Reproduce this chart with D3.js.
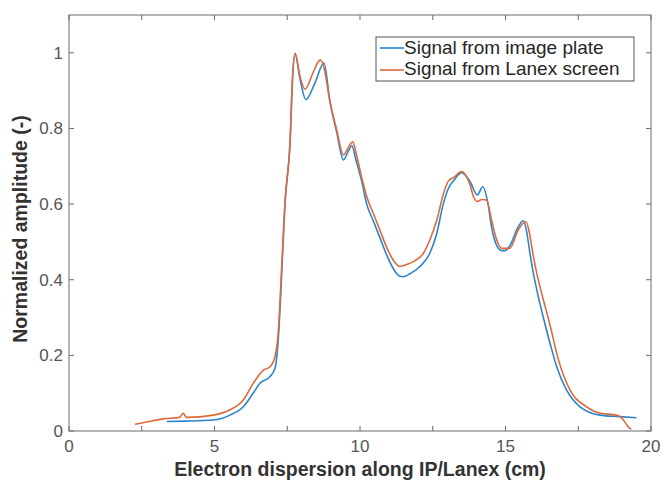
<!DOCTYPE html>
<html lang="en">
<head>
    <meta charset="UTF-8">
    <title>Electron dispersion</title>
    <script src="https://d3js.org/d3.v7.min.js"></script>
    <style>
        body { margin: 0; background: #fff; }
        text { font-family: 'Liberation Sans', Arial, sans-serif; }
    </style>
</head>
<body>
<script>
    const width  = 660;
    const height = 483;
    const margin = {left: 69, right: 9, top: 15, bottom: 52};

    // x positions (cm) and normalized amplitudes
    const plateX = [3.36, 4.0, 4.96, 5.53, 5.99, 6.33, 6.56, 6.91, 7.08, 7.19, 7.3, 7.42, 7.6, 7.68, 7.77,
        7.94, 8.14, 8.45, 8.76, 8.97, 9.2, 9.43, 9.6, 9.72, 9.85, 10.06, 10.23, 10.46, 10.69, 10.92,
        11.14, 11.35, 11.49, 11.7, 12.06, 12.4, 12.64, 12.86, 13.03, 13.25, 13.49, 13.78, 14.03, 14.22,
        14.4, 14.52, 14.7, 14.87, 14.98, 15.15, 15.44, 15.61, 15.72, 15.84, 15.95, 16.07, 16.3, 16.53, 16.76,
        17.1, 17.56, 18.25, 18.93, 19.5];
    const plateY = [0.025, 0.026, 0.029, 0.042, 0.064, 0.1, 0.126, 0.144, 0.166, 0.241, 0.4, 0.6, 0.77, 0.93, 0.998,
        0.93, 0.876, 0.92, 0.973, 0.87, 0.79, 0.717, 0.74, 0.755, 0.72, 0.66, 0.6, 0.555, 0.51, 0.465,
        0.43, 0.41, 0.408, 0.415, 0.435, 0.47, 0.523, 0.6, 0.64, 0.665, 0.683, 0.66, 0.624, 0.646,
        0.6, 0.54, 0.49, 0.477, 0.477, 0.49, 0.54, 0.556, 0.53, 0.47, 0.42, 0.375, 0.3, 0.232, 0.17,
        0.108, 0.064, 0.042, 0.038, 0.035];

    const lanexX = [2.27, 2.5, 3.24, 3.8, 3.93, 4.04, 4.96, 5.53, 5.99, 6.33, 6.68, 6.91, 7.08, 7.19, 7.3,
        7.42, 7.6, 7.68, 7.77, 7.94, 8.11, 8.4, 8.57, 8.63, 8.74, 8.97, 9.2, 9.43, 9.6, 9.75, 9.88,
        10.06, 10.23, 10.46, 10.69, 10.92, 11.14, 11.37, 11.6, 11.83, 12.18, 12.4, 12.64, 12.86, 13.03,
        13.25, 13.49, 13.78, 13.9, 14.01, 14.2, 14.35, 14.52, 14.7, 14.87, 15.15, 15.44, 15.7, 15.82,
        15.95, 16.08, 16.24, 16.53, 16.82, 17.22, 17.79, 18.25, 18.82, 19.0, 19.22, 19.32];
    const lanexY = [0.018, 0.021, 0.032, 0.036, 0.047, 0.036, 0.042, 0.056, 0.082, 0.126, 0.161, 0.17, 0.197, 0.258, 0.42,
        0.6, 0.77, 0.93, 0.999, 0.937, 0.904, 0.95, 0.977, 0.981, 0.968, 0.87, 0.796, 0.73, 0.75, 0.765, 0.73,
        0.67, 0.62, 0.575, 0.53, 0.485, 0.452, 0.435, 0.44, 0.448, 0.47, 0.505, 0.558, 0.625, 0.66,
        0.672, 0.686, 0.651, 0.62, 0.607, 0.612, 0.611, 0.558, 0.505, 0.483, 0.483, 0.532, 0.554, 0.525,
        0.465, 0.415, 0.365, 0.28, 0.188, 0.108, 0.064, 0.047, 0.042, 0.034, 0.011, 0.004];

    const seriesNames = ['Signal from image plate', 'Signal from Lanex screen'];
    const colors = ['#2a86cb', '#de6a3b'];
    const xTicks = [0, 2.5, 5, 7.5, 10, 12.5, 15, 17.5, 20];
    const xLabels = [0, 5, 10, 15, 20];
    const yTicks = [0, 0.2, 0.4, 0.6, 0.8, 1];

    const series = [
        plateX.map((x, i) => [x, plateY[i]]),
        lanexX.map((x, i) => [x, lanexY[i]])
    ];

    const x = d3.scaleLinear().domain([0, 20]).range([margin.left, width - margin.right]);
    const y = d3.scaleLinear().domain([0, 1.1]).range([height - margin.bottom, margin.top]);

    const svg = d3.select("body").append("svg").attr("width", width).attr("height", height);

    const line = d3.line()
            .x(d => x(d[0]))
            .y(d => y(d[1]))
            .curve(d3.curveMonotoneX);

    series.forEach((s, i) => {
        svg.append("path")
                .attr("d", line(s))
                .attr("stroke", colors[i])
                .attr("stroke-width", 1.6)
                .attr("stroke-linejoin", "round")
                .attr("fill", "none");
    });

    // box + ticks (inward, on all four sides)
    const x0 = x(0), x1 = x(20), y0 = y(0), y1 = y(1.1);
    svg.append("rect")
            .attr("x", x0).attr("y", y1)
            .attr("width", x1 - x0).attr("height", y0 - y1)
            .attr("fill", "none").attr("stroke", "#6b6b6b").attr("stroke-width", 1);

    const tl = 5;
    xTicks.forEach(t => {
        svg.append("line").attr("x1", x(t)).attr("x2", x(t)).attr("y1", y0).attr("y2", y0 - tl).attr("stroke", "#6b6b6b");
        svg.append("line").attr("x1", x(t)).attr("x2", x(t)).attr("y1", y1).attr("y2", y1 + tl).attr("stroke", "#6b6b6b");
    });
    yTicks.forEach(t => {
        svg.append("line").attr("x1", x0).attr("x2", x0 + tl).attr("y1", y(t)).attr("y2", y(t)).attr("stroke", "#6b6b6b");
        svg.append("line").attr("x1", x1).attr("x2", x1 - tl).attr("y1", y(t)).attr("y2", y(t)).attr("stroke", "#6b6b6b");
    });

    svg.selectAll(".xl")
            .data(xLabels)
            .enter().append("text")
            .attr("x", d => x(d))
            .attr("y", y0 + 21)
            .attr("text-anchor", "middle")
            .attr("font-size", "17px")
            .attr("fill", "#555")
            .text(d => d);

    svg.selectAll(".yl")
            .data(yTicks)
            .enter().append("text")
            .attr("x", x0 - 6)
            .attr("y", d => y(d) + 6)
            .attr("text-anchor", "end")
            .attr("font-size", "17px")
            .attr("fill", "#555")
            .text(d => d);

    svg.append("text")
            .attr("x", (x0 + x1) / 2)
            .attr("y", 476)
            .attr("text-anchor", "middle")
            .attr("font-size", "19.5px")
            .attr("font-weight", "bold")
            .attr("fill", "#333")
            .text("Electron dispersion along IP/Lanex (cm)");

    svg.append("text")
            .attr("transform", "translate(" + [27, (y0 + y1) / 2 + 6] + ") rotate(-90)")
            .attr("text-anchor", "middle")
            .attr("font-size", "19.5px")
            .attr("font-weight", "bold")
            .attr("fill", "#333")
            .text("Normalized amplitude (-)");

    // legend
    const lg = svg.append("g").attr("transform", "translate(376,37)");
    lg.append("rect")
            .attr("width", 258).attr("height", 44)
            .attr("fill", "#fff").attr("stroke", "#555").attr("stroke-width", 1);
    seriesNames.forEach((name, i) => {
        lg.append("line")
                .attr("x1", 4).attr("x2", 28)
                .attr("y1", 11 + i * 22).attr("y2", 11 + i * 22)
                .attr("stroke", colors[i]).attr("stroke-width", 1.6);
        lg.append("text")
                .attr("x", 28)
                .attr("y", 17 + i * 21)
                .attr("font-size", "19px")
                .attr("fill", "#262626")
                .text(name);
    });
</script>
</body>
</html>
